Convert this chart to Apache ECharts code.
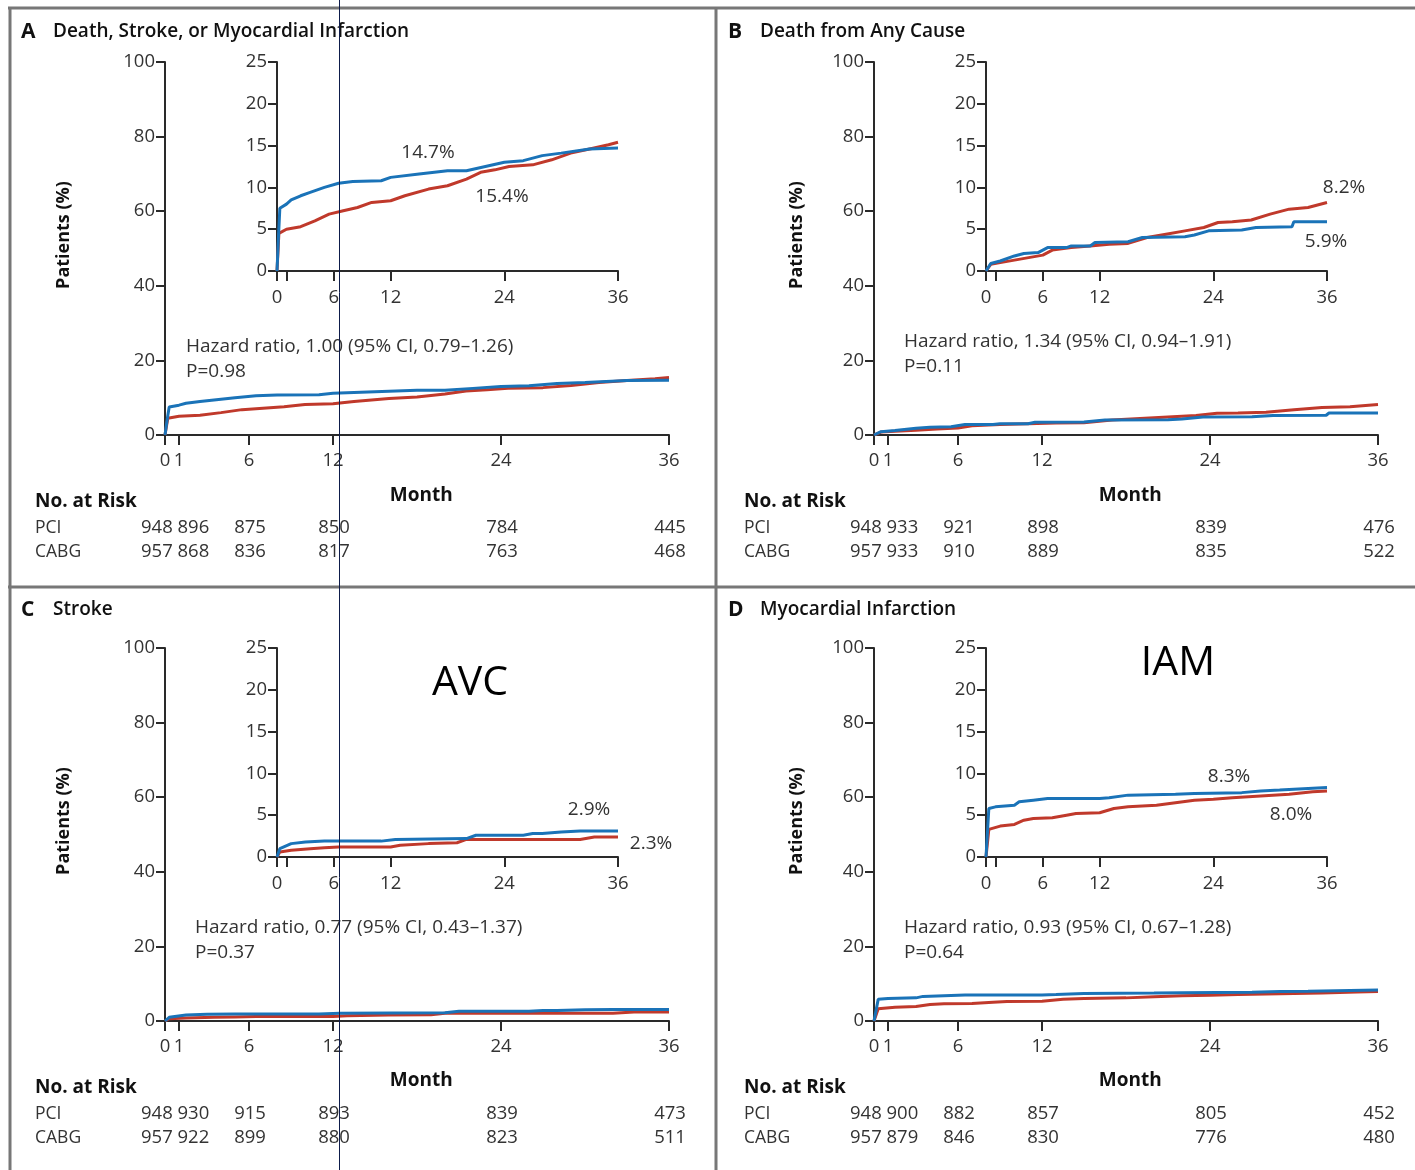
<!DOCTYPE html>
<html><head><meta charset="utf-8">
<script src="https://cdn.jsdelivr.net/npm/echarts@6/dist/echarts.min.js"></script>
<style>html,body{margin:0;padding:0;background:#fff}#c{width:1415px;height:1170px}</style>
</head><body><div id="c"></div>
<script>
// ---------- DATA ----------
const xTicks = [0, 1, 6, 12, 24, 36];
const xLabelsInset = [0, 6, 12, 24, 36];
const riskMonths = [6, 12, 24, 36];
const panelLetters = ['A', 'B', 'C', 'D'];
const panelTitles = ['Death, Stroke, or Myocardial Infarction', 'Death from Any Cause', 'Stroke', 'Myocardial Infarction'];
const hazardTexts = ['Hazard ratio, 1.00 (95% CI, 0.79\u20131.26)', 'Hazard ratio, 1.34 (95% CI, 0.94\u20131.91)', 'Hazard ratio, 0.77 (95% CI, 0.43\u20131.37)', 'Hazard ratio, 0.93 (95% CI, 0.67\u20131.28)'];
const pTexts = ['P=0.98', 'P=0.11', 'P=0.37', 'P=0.64'];
const pciEndLabels = ['14.7%', '5.9%', '2.9%', '8.3%'];
const cabgEndLabels = ['15.4%', '8.2%', '2.3%', '8.0%'];
const overlayLabels = ['', '', 'AVC', 'IAM'];
const groupNames = ['PCI', 'CABG'];

const riskPCI_A = ['948 896', '875', '850', '784', '445'];
const riskCABG_A = ['957 868', '836', '817', '763', '468'];
const riskPCI_B = ['948 933', '921', '898', '839', '476'];
const riskCABG_B = ['957 933', '910', '889', '835', '522'];
const riskPCI_C = ['948 930', '915', '893', '839', '473'];
const riskCABG_C = ['957 922', '899', '880', '823', '511'];
const riskPCI_D = ['948 900', '882', '857', '805', '452'];
const riskCABG_D = ['957 879', '846', '830', '776', '480'];

// cumulative incidence [month, %]
const pciA = [[0,0],[0.15,4],[0.3,7.5],[1,8],[1.5,8.5],[2.5,9],[3.5,9.4],[5,10],[6.5,10.5],[8,10.7],[11,10.8],[12,11.2],[15,11.6],[18,12],[20,12],[22,12.5],[24,13],[26,13.2],[28,13.8],[30,14.1],[33,14.6],[36,14.7]];
const cabgA = [[0,0],[0.2,4.5],[1,5],[2.5,5.3],[4,6],[5.5,6.8],[7,7.2],[8.5,7.6],[10,8.2],[12,8.4],[13.5,9],[16,9.8],[18,10.2],[20,11],[21.5,11.8],[23,12.1],[24.5,12.5],[27,12.7],[29,13.3],[31,14.1],[33,14.6],[35,15.1],[36,15.4]];
const pciB = [[0,0],[0.5,0.9],[1.5,1.2],[3,1.8],[4,2.1],[5.5,2.2],[6.5,2.8],[8.5,2.8],[9,3.0],[11,3.0],[11.5,3.4],[15,3.5],[16.5,4.0],[21,4.1],[22,4.3],[23.5,4.8],[27,4.9],[28.5,5.2],[32.3,5.3],[32.5,5.9],[36,5.9]];
const cabgB = [[0,0],[0.5,0.8],[1.5,1.0],[3,1.3],[4.5,1.6],[6,1.9],[7,2.5],[9,2.8],[11,3.0],[13,3.2],[15,3.3],[17,4.0],[19,4.4],[21,4.8],[23,5.2],[24.5,5.8],[26,5.9],[28,6.1],[30,6.8],[32,7.4],[34,7.6],[36,8.2]];
const pciC = [[0,0],[0.3,1.0],[1.5,1.6],[3,1.8],[5,1.9],[11,1.9],[12.5,2.1],[20,2.2],[21,2.6],[26,2.6],[27,2.8],[28,2.8],[30,3.0],[32,3.1],[36,3.1]];
const cabgC = [[0,0],[0.3,0.6],[1.5,0.8],[3.5,1.0],[5,1.1],[6.5,1.2],[12,1.2],[13,1.4],[16,1.6],[19,1.7],[20,2.1],[32,2.1],[33.5,2.4],[36,2.4]];
const pciD = [[0,0],[0.3,5.8],[1,6.0],[3,6.2],[3.5,6.6],[5,6.8],[6.5,7.0],[12,7.0],[13,7.1],[15,7.4],[20,7.5],[22,7.6],[27,7.7],[29,7.9],[31,8.0],[34,8.2],[36,8.3]];
const cabgD = [[0,0],[0.3,3.3],[1.5,3.7],[3,3.9],[4,4.4],[5,4.6],[7,4.7],[8.5,5.0],[9.5,5.2],[12,5.3],[13.5,5.8],[15,6.0],[18,6.2],[20,6.5],[22,6.8],[24,6.9],[26,7.1],[29,7.3],[32,7.5],[34.5,7.8],[36,7.9]];

// ---------- LAYOUT ----------
const FONT = 'Open Sans';
const BLUE = '#1a73b8', RED = '#c0392b', INK = '#2a2a2a', TXT = '#333';
const pciData = [pciA, pciB, pciC, pciD];
const cabgData = [cabgA, cabgB, cabgC, cabgD];
const riskPCI = [riskPCI_A, riskPCI_B, riskPCI_C, riskPCI_D];
const riskCABG = [riskCABG_A, riskCABG_B, riskCABG_C, riskCABG_D];
const L = [
  {ox:0,   oy:0,   hx:186, hy:347, pciLab:[428,153], cabgLab:[502,197], over:[0,0]},
  {ox:709, oy:0,   hx:904, hy:342, pciLab:[1326,242], cabgLab:[1344,188], over:[0,0]},
  {ox:0,   oy:586, hx:195, hy:928, pciLab:[589,810], cabgLab:[651,844], over:[470,683]},
  {ox:709, oy:586, hx:904, hy:928, pciLab:[1229,777], cabgLab:[1291,815], over:[1178,663]}
];
const MAIN = {left:165, top:62, w:504, h:373};
const INSET = {left:277, top:62, w:341, h:209};

const grids = [], xAxes = [], yAxes = [], series = [], graphics = [];
const axisLineStyle = {lineStyle:{color:INK, width:2}};
const lab = (extra) => Object.assign({fontSize:18.5, color:TXT, fontFamily:FONT}, extra);

function addAxes(g, yMax, yInt, xLabs, xMargin) {
  xAxes.push({type:'value', gridIndex:g, min:0, max:36, axisLine:Object.assign({show:true, onZero:false}, axisLineStyle),
    axisTick:{show:true, customValues:xTicks, length:10, lineStyle:{color:INK, width:2}},
    axisLabel:lab({customValues:xLabs, margin:xMargin}), splitLine:{show:false}});
  yAxes.push({type:'value', gridIndex:g, min:0, max:yMax, interval:yInt, axisLine:Object.assign({show:true}, axisLineStyle),
    axisTick:{show:true, length:9, lineStyle:{color:INK, width:2}},
    axisLabel:lab({margin:10}), splitLine:{show:false}});
}
function addLine(g, data, color, z) {
  series.push({type:'line', xAxisIndex:g, yAxisIndex:g, data:data, showSymbol:false, symbol:'none',
    lineStyle:{color:color, width:3}, z:z, animation:false, silent:true});
}
function txt(text, x, y, opt) {
  graphics.push({type:'text', z:50, silent:true, style:Object.assign({text:text, x:x, y:y, fill:TXT,
    fontSize:19, fontFamily:FONT, align:'left', verticalAlign:'middle'}, opt || {})});
}

L.forEach((p, i) => {
  const gm = grids.length;
  grids.push({left:MAIN.left + p.ox, top:MAIN.top + p.oy, width:MAIN.w, height:MAIN.h});
  addAxes(gm, 100, 20, xTicks, 16);
  addLine(gm, cabgData[i], RED, 2);
  addLine(gm, pciData[i], BLUE, 3);
  const gi = grids.length;
  grids.push({left:INSET.left + p.ox, top:INSET.top + p.oy, width:INSET.w, height:INSET.h});
  addAxes(gi, 25, 5, xLabelsInset, 17);
  addLine(gi, cabgData[i], RED, 2);
  addLine(gi, pciData[i], BLUE, 3);

  const ty = (i < 2 ? 32 : 610);
  txt(panelLetters[i], (i % 2 ? 728 : 21), ty, {fontWeight:'bold', fontSize:21, fill:'#111'});
  txt(panelTitles[i], (i % 2 ? 760 : 53), ty, {fontWeight:600, fontSize:19, fill:'#111'});
  txt('Patients (%)', 0, 0, {fontWeight:'bold', fontSize:18, fill:'#111', align:'center'});
  graphics[graphics.length - 1].x = (i % 2 ? 797 : 64) ;
  graphics[graphics.length - 1].y = 235 + p.oy;
  graphics[graphics.length - 1].rotation = Math.PI / 2;
  txt(hazardTexts[i], p.hx, p.hy);
  txt(pTexts[i], p.hx, p.hy + 25);
  txt(pciEndLabels[i], p.pciLab[0], p.pciLab[1], {align:'center'});
  txt(cabgEndLabels[i], p.cabgLab[0], p.cabgLab[1], {align:'center'});
  if (overlayLabels[i]) txt(overlayLabels[i], p.over[0], p.over[1], {align:'center', fontSize:41, fill:'#000'});

  const axisX = MAIN.left + p.ox;
  const px = m => axisX + m * MAIN.w / 36;
  txt('Month', px(18.3), 496 + (i < 2 ? 0 : 585), {fontWeight:'bold', fontSize:19, fill:'#111', align:'center'});
  const rY = 502 + (i < 2 ? 0 : 586);
  txt('No. at Risk', axisX - 130, rY, {fontWeight:'bold', fontSize:19, fill:'#111'});
  [riskPCI[i], riskCABG[i]].forEach((row, r) => {
    const yy = rY + 26 + r * 24;
    txt(groupNames[r], axisX - 130, yy, {fontSize:17.5});
    txt(row[0], axisX - 24, yy, {fontSize:18.5});
    riskMonths.forEach((m, k) => txt(row[k + 1], px(m) + 1, yy, {align:'center', fontSize:18.5}));
  });
});

// frame lines
const FR = '#777';
[[8, 8, 1415, 8], [10, 8, 10, 1170], [716, 8, 716, 1170], [8, 587, 1415, 587]].forEach(s => {
  graphics.push({type:'line', z:60, silent:true, shape:{x1:s[0], y1:s[1], x2:s[2], y2:s[3]}, style:{stroke:FR, lineWidth:3}});
});
graphics.push({type:'line', z:70, silent:true, shape:{x1:339.5, y1:0, x2:339.5, y2:1170}, style:{stroke:'#0d1b4a', lineWidth:1}});

const chart = echarts.init(document.getElementById('c'), null, {renderer:'canvas'});
chart.setOption({animation:false, backgroundColor:'#fff', grid:grids, xAxis:xAxes, yAxis:yAxes, series:series, graphic:graphics});
</script></body></html>
